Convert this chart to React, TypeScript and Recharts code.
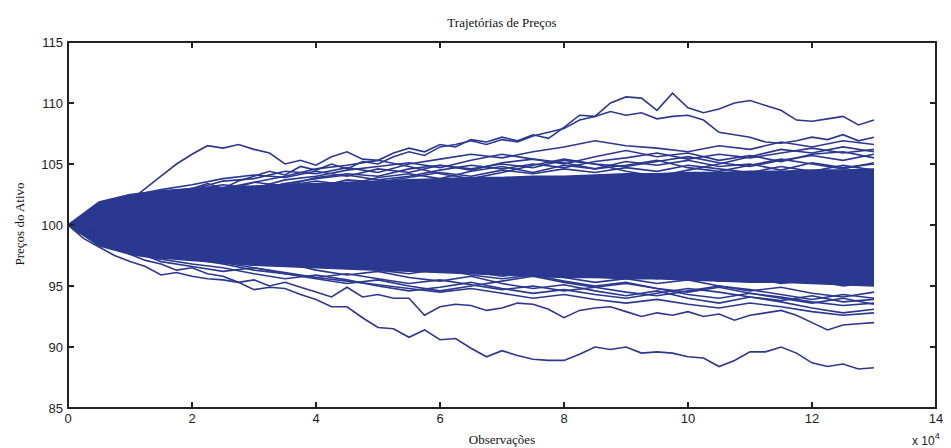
import React from 'react';
import { ComposedChart, Line, Area, XAxis, YAxis } from 'recharts';

const X_TICKS = [0, 2, 4, 6, 8, 10, 12, 14];
const Y_TICKS = [85, 90, 95, 100, 105, 110, 115];
const X_MIN = 0, X_MAX = 14, Y_MIN = 85, Y_MAX = 115;

const X_Q = [0, 0.25, 0.5, 0.75, 1, 1.25, 1.5, 1.75, 2, 2.25, 2.5, 2.75, 3, 3.25, 3.5, 3.75, 4, 4.25, 4.5, 4.75, 5, 5.25, 5.5, 5.75, 6, 6.25, 6.5, 6.75, 7, 7.25, 7.5, 7.75, 8, 8.25, 8.5, 8.75, 9, 9.25, 9.5, 9.75, 10, 10.25, 10.5, 10.75, 11, 11.25, 11.5, 11.75, 12, 12.25, 12.5, 12.75, 13];
const X_H = [0, 0.5, 1, 1.5, 2, 2.5, 3, 3.5, 4, 4.5, 5, 5.5, 6, 6.5, 7, 7.5, 8, 8.5, 9, 9.5, 10, 10.5, 11, 11.5, 12, 12.5, 13];

const TOP1 = [100, 100.8, 101.5, 101.2, 102.0, 103.0, 104.0, 105.0, 105.8, 106.5, 106.3, 106.6, 106.2, 105.9, 105.0, 105.3, 104.9, 105.6, 106.0, 105.4, 105.3, 105.9, 106.3, 106.0, 106.6, 106.4, 107.0, 106.8, 107.2, 106.9, 107.4, 107.1, 108.0, 109.0, 108.9, 110.0, 110.5, 110.4, 109.4, 110.8, 109.6, 109.2, 109.5, 110.0, 110.2, 109.8, 109.4, 108.6, 108.5, 108.7, 108.9, 108.2, 108.6];
const TOP2 = [100, 100.5, 101.0, 101.6, 101.4, 102.0, 102.5, 102.2, 103.0, 103.4, 103.0, 103.6, 104.0, 104.4, 104.1, 104.8, 104.5, 105.0, 104.6, 105.2, 105.0, 105.6, 106.0, 105.7, 106.4, 106.6, 106.9, 106.6, 107.0, 106.8, 107.3, 107.6, 107.9, 108.6, 108.9, 109.3, 109.0, 109.2, 108.7, 108.9, 109.0, 108.6, 107.6, 107.4, 107.2, 106.8, 106.7, 106.9, 107.2, 107.0, 107.4, 106.9, 107.2];
const BOT1 = [100, 98.9, 98.2, 97.5, 97.0, 96.6, 95.9, 96.1, 95.8, 95.6, 95.5, 95.3, 94.7, 94.9, 94.8, 94.3, 93.9, 93.3, 93.3, 92.4, 91.6, 91.5, 90.8, 91.4, 90.6, 90.7, 89.9, 89.2, 89.7, 89.3, 89.0, 88.9, 88.9, 89.4, 90.0, 89.8, 90.0, 89.5, 89.6, 89.5, 89.2, 89.1, 88.4, 88.9, 89.6, 89.6, 90.0, 89.5, 88.7, 88.4, 88.6, 88.2, 88.3];
const BOT2 = [100, 99.2, 98.6, 98.2, 97.6, 97.1, 96.8, 96.3, 96.5, 96.0, 95.8, 95.3, 95.5, 95.0, 95.3, 94.9, 94.5, 94.1, 94.9, 94.1, 94.3, 94.0, 94.0, 92.6, 93.3, 93.5, 93.4, 93.0, 93.2, 93.6, 93.5, 93.1, 92.4, 93.0, 93.2, 93.3, 92.9, 92.5, 92.8, 92.6, 92.9, 92.5, 92.7, 92.2, 92.6, 92.8, 93.0, 92.6, 92.0, 91.4, 91.8, 91.9, 92.0];

const U1 = [100, 101.3, 101.9, 102.4, 102.9, 103.6, 103.8, 104.4, 104.2, 104.7, 104.3, 105.0, 105.4, 105.8, 105.5, 106.0, 106.4, 106.9, 106.5, 106.3, 106.0, 106.5, 106.2, 106.8, 106.4, 106.9, 106.6];
const U2 = [100, 101.0, 101.6, 102.2, 102.6, 103.0, 103.5, 103.2, 103.9, 104.2, 104.0, 104.6, 104.9, 104.5, 105.1, 105.4, 105.0, 105.6, 106.1, 105.6, 105.9, 105.3, 105.7, 105.2, 105.8, 106.0, 105.5];
const U3 = [100, 100.8, 101.4, 101.9, 102.3, 102.8, 102.6, 103.2, 103.6, 103.3, 103.9, 104.2, 103.8, 104.4, 104.8, 104.3, 104.9, 104.6, 105.2, 104.9, 105.3, 104.8, 105.0, 104.5, 105.1, 104.7, 105.0];
const U4 = [100, 100.9, 101.2, 101.7, 102.1, 102.5, 102.9, 103.4, 103.1, 103.7, 103.5, 103.9, 104.3, 104.0, 104.5, 104.2, 104.6, 104.3, 104.7, 104.4, 104.9, 104.6, 104.3, 104.8, 104.4, 104.9, 104.5];
const U5 = [100, 101.2, 101.8, 102.6, 103.0, 102.7, 103.5, 104.0, 104.6, 104.9, 105.3, 104.8, 104.2, 103.8, 104.3, 104.9, 105.4, 105.0, 104.4, 104.0, 104.5, 105.0, 105.6, 106.2, 105.9, 106.4, 106.0];
const U6 = [100, 100.7, 101.5, 102.0, 102.9, 103.3, 103.0, 103.7, 104.0, 104.5, 104.8, 105.1, 104.7, 105.3, 105.8, 105.4, 105.1, 104.6, 104.9, 105.3, 104.7, 104.4, 104.9, 105.4, 105.0, 104.6, 105.1];
const U7 = [100, 101.5, 102.4, 102.9, 103.3, 103.8, 104.1, 103.9, 104.4, 104.0, 104.6, 104.3, 104.9, 104.6, 105.0, 104.7, 105.3, 105.0, 104.8, 105.2, 105.6, 105.1, 104.8, 105.3, 105.7, 105.3, 105.8];
const U8 = [100, 100.6, 101.7, 102.2, 102.6, 102.4, 102.8, 103.4, 103.8, 104.1, 103.7, 104.0, 104.5, 104.9, 104.6, 105.0, 104.7, 105.2, 105.5, 105.9, 105.4, 105.8, 105.5, 105.9, 106.3, 105.9, 106.2];

const L1 = [100, 98.8, 98.4, 97.9, 97.5, 97.0, 96.7, 96.9, 96.3, 95.9, 96.2, 95.7, 95.4, 95.8, 95.2, 94.8, 95.1, 94.6, 94.2, 94.6, 94.0, 93.6, 94.1, 93.7, 93.2, 92.8, 93.1];
const L2 = [100, 99.0, 98.6, 98.2, 97.7, 97.3, 97.6, 97.1, 96.6, 96.8, 96.3, 96.0, 96.4, 95.9, 95.6, 95.9, 95.4, 95.0, 95.3, 94.8, 94.5, 94.9, 94.4, 94.0, 93.6, 94.0, 93.5];
const L3 = [100, 99.2, 98.9, 98.5, 98.0, 97.6, 97.2, 97.5, 97.0, 96.6, 96.9, 96.4, 96.7, 96.2, 95.8, 96.1, 95.7, 95.3, 95.6, 95.2, 95.5, 95.0, 94.6, 94.9, 94.4, 94.1, 94.5];
const L4 = [100, 99.4, 99.0, 98.6, 98.3, 98.0, 97.6, 97.3, 97.7, 97.2, 96.9, 97.2, 96.8, 96.5, 96.9, 96.4, 96.1, 96.4, 96.0, 95.6, 95.9, 95.4, 95.7, 95.2, 95.5, 95.0, 95.3];
const L5 = [100, 99.0, 98.3, 97.8, 97.2, 96.8, 96.3, 96.0, 95.6, 95.2, 95.5, 95.0, 94.6, 95.0, 95.4, 95.8, 95.3, 94.9, 94.5, 94.2, 94.6, 95.0, 94.7, 94.3, 93.9, 94.3, 94.0];
const L6 = [100, 99.3, 98.7, 98.0, 97.4, 96.9, 96.5, 96.0, 95.7, 95.4, 95.1, 94.8, 94.5, 94.8, 94.4, 94.0, 94.3, 93.9, 93.6, 93.9, 93.5, 93.2, 93.6, 93.3, 92.9, 92.6, 92.8];
const L7 = [100, 98.5, 97.6, 97.2, 96.8, 96.5, 96.0, 95.6, 95.9, 95.5, 95.0, 94.6, 94.9, 95.3, 94.8, 94.4, 94.7, 94.3, 94.0, 94.4, 94.8, 94.5, 94.1, 93.8, 94.2, 93.7, 93.9];
const L8 = [100, 98.7, 98.0, 97.0, 96.6, 96.2, 96.5, 96.1, 95.7, 96.0, 95.6, 95.2, 95.5, 95.1, 94.7, 95.0, 94.6, 94.9, 95.2, 94.8, 94.3, 94.0, 94.4, 94.1, 93.7, 93.4, 93.6];

const CORE_LO = [100, 98.3, 97.6, 97.3, 97.1, 96.9, 96.7, 96.6, 96.5, 96.4, 96.3, 96.2, 96.1, 96.0, 95.9, 95.8, 95.7, 95.7, 95.6, 95.6, 95.5, 95.4, 95.3, 95.3, 95.2, 95.1, 95.0];
const CORE_HI = [100, 101.9, 102.5, 102.8, 103.0, 103.1, 103.2, 103.3, 103.4, 103.5, 103.6, 103.7, 103.8, 103.9, 103.9, 104.0, 104.0, 104.1, 104.2, 104.2, 104.3, 104.3, 104.4, 104.4, 104.5, 104.5, 104.6];

const COLOR = '#2B3890';
const AXIS = '#222222';
const SANS = '"Liberation Sans", Arial, sans-serif';
const SERIF = '"Liberation Serif", "Times New Roman", serif';

const W = 951, H = 448;
const M = { top: 42, right: 15, bottom: 10, left: 18 };
const Y_AXIS_W = 50, X_AXIS_H = 30;
const PL = M.left + Y_AXIS_W, PT = M.top, PR = W - M.right, PB = H - M.bottom - X_AXIS_H;
const TICK = 6;

function pts(xs: number[], ys: number[]) {
  const n = Math.min(xs.length, ys.length);
  const out: { x: number; y: number }[] = [];
  for (let i = 0; i < n; i++) out.push({ x: xs[i], y: ys[i] });
  return out;
}

const BAND = X_H.map((x, i) => ({ x, r: [CORE_LO[i], CORE_HI[i]] }));
const PATHS = [
  ...[U1, U2, U3, U4, U5, U6, U7, U8, L1, L2, L3, L4, L5, L6, L7, L8].map((p) => pts(X_H, p)),
  ...[TOP1, TOP2, BOT1, BOT2].map((p) => pts(X_Q, p)),
];

const BottomTick = (p: any) => (
  <text x={p.x} y={p.y + 15} textAnchor="middle" fontFamily={SANS} fontSize={13} fill={AXIS}>{p.payload.value}</text>
);
const LeftTick = (p: any) => (
  <text x={p.x - 5} y={p.y + 4.5} textAnchor="end" fontFamily={SANS} fontSize={13} fill={AXIS}>{p.payload.value}</text>
);

const px = (v: number) => PL + ((v - X_MIN) / (X_MAX - X_MIN)) * (PR - PL);
const py = (v: number) => PB - ((v - Y_MIN) / (Y_MAX - Y_MIN)) * (PB - PT);

function Frame() {
  const xt = X_TICKS.filter((t) => t > X_MIN && t < X_MAX);
  const yt = Y_TICKS.filter((t) => t > Y_MIN && t < Y_MAX);
  return (
    <svg width={W} height={H} style={{ position: 'absolute', left: 0, top: 0, pointerEvents: 'none', zIndex: 5 }}>
      <path d={`M${PL},${PT}H${PR}V${PB}H${PL}Z`} fill="none" stroke={AXIS} strokeWidth={2} shapeRendering="crispEdges" />
      {xt.map((t) => (
        <g key={'x' + t}>
          <line x1={px(t)} x2={px(t)} y1={PB} y2={PB - TICK} stroke={AXIS} strokeWidth={1.5} shapeRendering="crispEdges" />
          <line x1={px(t)} x2={px(t)} y1={PT} y2={PT + TICK} stroke={AXIS} strokeWidth={1.5} shapeRendering="crispEdges" />
        </g>
      ))}
      {yt.map((t) => (
        <g key={'y' + t}>
          <line x1={PL} x2={PL + TICK} y1={py(t)} y2={py(t)} stroke={AXIS} strokeWidth={1.5} shapeRendering="crispEdges" />
          <line x1={PR} x2={PR - TICK} y1={py(t)} y2={py(t)} stroke={AXIS} strokeWidth={1.5} shapeRendering="crispEdges" />
        </g>
      ))}
    </svg>
  );
}

export default function App() {
  const ids = { xAxisId: 'b', yAxisId: 'l' } as const;
  return (
    <div style={{ position: 'absolute', left: 0, top: 0, width: W, height: H, background: '#fff', overflow: 'hidden' }}>
      <ComposedChart width={W} height={H} margin={M}>
        <XAxis xAxisId="b" type="number" dataKey="x" domain={[X_MIN, X_MAX]} ticks={X_TICKS} orientation="bottom" height={X_AXIS_H}
          tickSize={0} tickMargin={0} tickLine={false} tick={BottomTick} axisLine={false} allowDataOverflow interval={0} />
        <YAxis yAxisId="l" type="number" domain={[Y_MIN, Y_MAX]} ticks={Y_TICKS} orientation="left" width={Y_AXIS_W}
          tickSize={0} tickMargin={0} tickLine={false} tick={LeftTick} axisLine={false} allowDataOverflow interval={0} />
        <Area {...ids} data={BAND} dataKey="r" type="linear" stroke={COLOR} strokeWidth={1.5}
          fill={COLOR} fillOpacity={1} isAnimationActive={false} dot={false} activeDot={false} />
        {PATHS.map((d, i) => (
          <Line key={'p' + i} {...ids} data={d} dataKey="y" type="linear" stroke={COLOR}
            strokeWidth={1.6} dot={false} activeDot={false} isAnimationActive={false} />
        ))}
      </ComposedChart>
      <Frame />
      <div style={{ position: 'absolute', left: 0, width: PL + PR, top: 15, textAlign: 'center', fontFamily: SERIF, fontSize: 13, color: '#111' }}>
        Trajetórias de Preços
      </div>
      <div style={{ position: 'absolute', left: 0, width: PL + PR, top: 432, textAlign: 'center', fontFamily: SERIF, fontSize: 13, color: '#111' }}>
        Observações
      </div>
      <div style={{ position: 'absolute', left: 20, top: (PT + PB) / 2, width: 0, height: 0 }}>
        <div style={{ position: 'absolute', left: -100, top: -9, width: 200, textAlign: 'center', transform: 'rotate(-90deg)', fontFamily: SERIF, fontSize: 13, color: '#111', whiteSpace: 'nowrap' }}>
          Preços do Ativo
        </div>
      </div>
      <div style={{ position: 'absolute', left: 912, top: 430, fontFamily: SANS, fontSize: 12, lineHeight: '14px', color: AXIS, whiteSpace: 'nowrap' }}>
        x 10<sup style={{ fontSize: 9, position: 'relative', top: -1 }}>4</sup>
      </div>
    </div>
  );
}
